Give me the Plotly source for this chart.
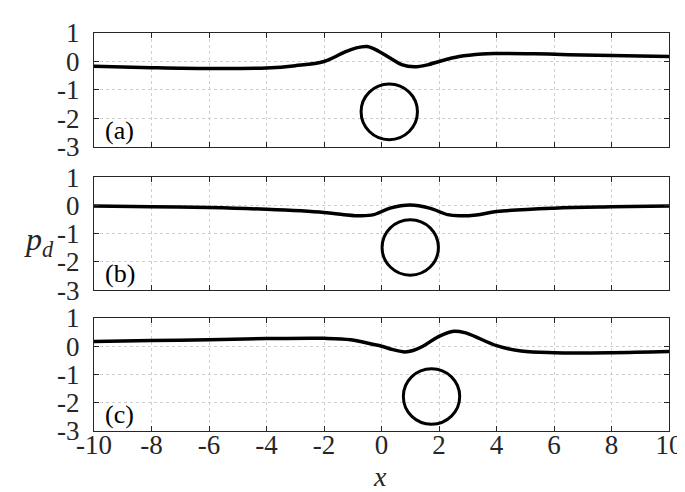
import plotly.graph_objects as go

# curve samples, one per panel
xa = [-10, -8, -6, -4, -3, -2, -1.3, -0.9, -0.5, -0.1, 0.3, 0.7, 1.15, 1.6, 2.0, 2.7, 3.5, 4.0, 5.3, 6.5, 8.0, 10]
pa = [-0.17, -0.22, -0.25, -0.23, -0.15, 0.0, 0.32, 0.47, 0.525, 0.36, 0.12, -0.11, -0.19, -0.12, 0.0, 0.175, 0.265, 0.28, 0.27, 0.24, 0.21, 0.175]

xb = [-10, -8, -6, -4, -2, -1.3, -0.7, -0.27, 0.3, 1.0, 1.67, 2.3, 2.7, 3.3, 4, 6, 8, 10]
pb = [-0.02, -0.05, -0.08, -0.14, -0.25, -0.33, -0.37, -0.33, -0.1, 0.01, -0.1, -0.33, -0.37, -0.34, -0.22, -0.1, -0.05, -0.02]

xc = [-10, -8, -6, -4, -2, -1.07, -0.27, 0.0, 0.4, 0.81, 1.1, 1.44, 2.0, 2.52, 2.9, 3.26, 4, 4.86, 6, 8, 10]
pc = [0.17, 0.2, 0.23, 0.27, 0.28, 0.23, 0.06, 0.0, -0.12, -0.2, -0.15, 0.0, 0.35, 0.53, 0.48, 0.34, 0.02, -0.17, -0.23, -0.23, -0.19]

# cylinder centres and radius
circle_x = [0.27, 1.0, 1.74]
circle_y = [-1.77, -1.49, -1.78]
radius = 0.98

panel_labels = ["(a)", "(b)", "(c)"]
x_ticks = [-10, -8, -6, -4, -2, 0, 2, 4, 6, 8, 10]
x_ticklabels = ["-10", "-8", "-6", "-4", "-2", "0", "2", "4", "6", "8", "10"]
y_ticks = [-3, -2, -1, 0, 1]
y_ticklabels = ["-3", "-2", "-1", "0", "1"]

font = "Liberation Serif"
axcol = "#262626"
domains = [[0.714, 1.0], [0.354, 0.638], [0.0, 0.284]]

fig = go.Figure()
fig.update_layout(font=dict(family=font, size=26, color=axcol))
curves = [(xa, pa), (xb, pb), (xc, pc)]
for i, (xs, ys) in enumerate(curves):
    n = "" if i == 0 else str(i + 1)
    fig.add_trace(go.Scatter(x=xs, y=ys, mode="lines",
                             line=dict(color="black", width=3.5, shape="spline", smoothing=1.0),
                             xaxis="x" + n, yaxis="y" + n, showlegend=False))
    common = dict(showline=True, linecolor=axcol, linewidth=1.4, mirror="ticks",
                  ticks="inside", ticklen=5, tickcolor=axcol, tickwidth=1,
                  showgrid=True, gridcolor="#cfcfcf", griddash="dot", gridwidth=1,
                  zeroline=False, tickfont=dict(family=font, size=27, color=axcol))
    fig.update_layout({
        "xaxis" + n: dict(common, range=[-10, 10], tickvals=x_ticks, ticktext=x_ticklabels,
                          showticklabels=(i == 2), anchor="y" + n, domain=[0, 1],
                          ticklabelstandoff=-11),
        "yaxis" + n: dict(common, range=[-3, 1], tickvals=y_ticks, ticktext=y_ticklabels,
                          anchor="x" + n, domain=domains[i], ticklabelstandoff=8),
    })
    fig.add_shape(type="circle", xref="x" + n, yref="y" + n,
                  x0=circle_x[i] - radius, x1=circle_x[i] + radius,
                  y0=circle_y[i] - radius, y1=circle_y[i] + radius,
                  line=dict(color="black", width=3))
    fig.add_annotation(text=panel_labels[i], xref="x" + n + " domain", yref="y" + n + " domain",
                       x=0.015, y=0.0, xanchor="left", yanchor="bottom", showarrow=False,
                       font=dict(family=font, size=26, color="black"))

fig.add_annotation(text="<i>x</i>", xref="paper", yref="paper",
                   x=0.497, y=-0.115, xanchor="center", yanchor="middle", showarrow=False,
                   font=dict(family=font, size=28, color=axcol))
fig.add_annotation(text="<i>p</i><sub><i>d</i></sub>", xref="paper", yref="paper",
                   x=-0.095, y=0.475, xanchor="center", yanchor="middle", showarrow=False,
                   font=dict(family=font, size=32, color=axcol))

fig.update_layout(width=685, height=492, margin=dict(l=86, r=15, t=10, b=69),
                  paper_bgcolor="white", plot_bgcolor="white")
fig.write_html("out.html")
